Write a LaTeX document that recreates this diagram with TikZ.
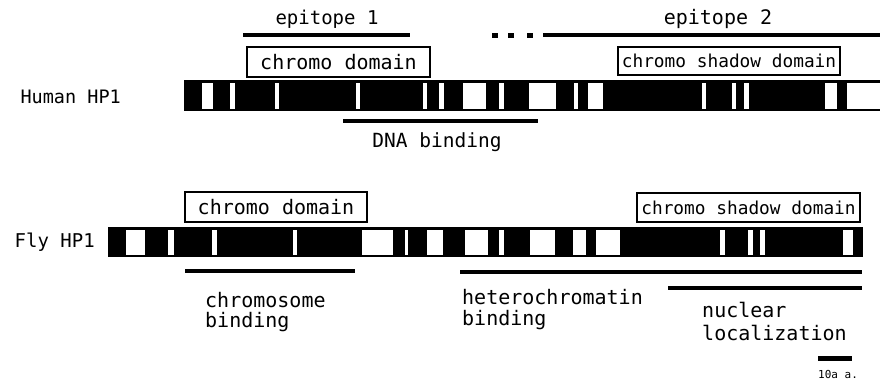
\documentclass[tikz,border=0pt]{standalone}
\usepackage{fontspec}
\setmonofont{DejaVu Sans Mono}
\begin{document}
\begin{tikzpicture}[x=1pt,y=-1pt,
  lbl/.style={font=\ttfamily\fontsize{#1}{#1}\selectfont, inner sep=0pt},
  lbl/.default=20,
  dombox/.style={draw, line width=1.8pt, inner sep=0pt},
  annot/.style={line width=4.5pt},
]
\useasboundingbox (0,0) rectangle (880,385);

% ---------------- Human HP1 ----------------
\fill (184,80) rectangle (880,111);
\foreach \a/\b in {202/213,230/235,275/279,356/360,423/427,439/444,463/486,499/504,529/556,574/578,588/603,702/706,732/736,744/749,825/837,847/880}
  \fill[white] (\a,83) rectangle (\b,109);
\node[lbl=18.5, anchor=east] (human) at (121,97) {Human HP1};

\coordinate (e1a) at (243,35); \coordinate (e1b) at (410,35);
\draw[annot] (e1a) -- (e1b);
\node[lbl=19] (ep1) at (327,19) {epitope 1};
\foreach \x in {492,508,527}
  \fill (\x,33) rectangle ++(6,5);
\coordinate (e2a) at (543,35); \coordinate (e2b) at (880,35);
\draw[annot] (e2a) -- (e2b);
\node[lbl=20] (ep2) at (718,19) {epitope 2};

\node[dombox, minimum width=183pt, minimum height=30pt] (hcd) at (338.5,62) {};
\node[lbl=20] (hcdt) at (hcd.center) {chromo domain};
\node[dombox, minimum width=222pt, minimum height=28pt] (hcsd) at (729,61) {};
\node[lbl=17.8] (hcsdt) at (hcsd.center) {chromo shadow domain};

\coordinate (dna1) at (343,121); \coordinate (dna2) at (538,121);
\draw[annot] (dna1) -- (dna2);
\node[lbl=19.5] (dna) at (437,142) {DNA binding};

% ---------------- Fly HP1 ----------------
\fill (108,227) rectangle (863,257);
\foreach \a/\b in {126/145,168/174,212/217,293/297,362/393,405/408,427/443,465/488,499/504,530/555,573/586,596/620,720/725,748/753,760/765,843/853}
  \fill[white] (\a,230) rectangle (\b,255);
\node[lbl=19, anchor=east] (fly) at (95,242) {Fly HP1};

\node[dombox, minimum width=182pt, minimum height=30pt] (fcd) at (276,207) {};
\node[lbl=20] (fcdt) at (fcd.center) {chromo domain};
\node[dombox, minimum width=223pt, minimum height=29pt] (fcsd) at (748.5,207.5) {};
\node[lbl=17.8] (fcsdt) at (fcsd.center) {chromo shadow domain};

\coordinate (cb1) at (185,271); \coordinate (cb2) at (355,271);
\draw[annot] (cb1) -- (cb2);
\node[lbl, anchor=west] (chr1) at (205,300) {chromosome};
\node[lbl, anchor=west] (chr2) at (205,322) {binding};

\coordinate (hb1) at (460,272); \coordinate (hb2) at (862,272);
\draw[annot] (hb1) -- (hb2);
\node[lbl, anchor=west] (het1) at (462,297) {heterochromatin};
\node[lbl, anchor=west] (het2) at (462,320) {binding};

\coordinate (nl1) at (668,288); \coordinate (nl2) at (862,288);
\draw[annot] (nl1) -- (nl2);
\node[lbl, anchor=west] (nuc1) at (702,310) {nuclear};
\node[lbl, anchor=west] (nuc2) at (702,333) {localization};

% scale bar
\coordinate (sb1) at (818,358); \coordinate (sb2) at (852,358);
\draw[line width=5pt] (sb1) -- (sb2);
\node[lbl=11, anchor=west] (sbl) at (818,374) {10a a.};
\end{tikzpicture}
\end{document}
